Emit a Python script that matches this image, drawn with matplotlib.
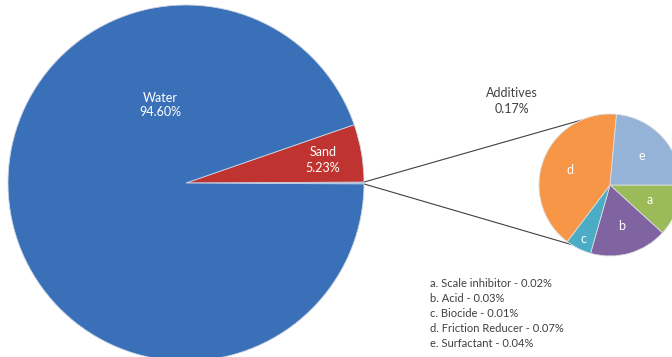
import numpy as np
import matplotlib.pyplot as plt

# main pie data (percent of fluid)
main_names = ['Additives', 'Sand', 'Water']
main_values = [0.17, 5.23, 94.60]

# breakdown of additives
add_letters = ['a', 'b', 'c', 'd', 'e']
add_names = ['Scale inhibitor', 'Acid', 'Biocide', 'Friction Reducer', 'Surfactant']
add_values = [0.02, 0.03, 0.01, 0.07, 0.04]

H = 357
fig = plt.figure(figsize=(6.72, 3.57), dpi=100)
ax = fig.add_axes([0, 0, 1, 1])
ax.set_xlim(0, 672)
ax.set_ylim(0, H)
ax.set_aspect('equal')
ax.axis('off')

font = 'Lato'

# big pie, additives slice centred on the horizontal
main_c = (186, H - 183)
main_r = 178
start = -main_values[0] / 100 * 360 / 2
ax.pie(main_values, colors=['#7ea6dc', '#bf3430', '#3a70b8'], startangle=start,
       center=main_c, radius=main_r, frame=True,
       wedgeprops=dict(edgecolor='#c9d3e3', linewidth=0.6))

ax.text(160, H - 105, 'Water\n94.60%', color='white', ha='center', va='center',
        fontsize=9, family=font, linespacing=1.3)
ax.text(323, H - 160, 'Sand\n5.23%', color='white', ha='center', va='center',
        fontsize=9, family=font, linespacing=1.3)

# small pie
small_c = (610, H - 185)
small_r = 71
wedges, texts = ax.pie(add_values, labels=add_letters, labeldistance=0.6,
                       colors=['#9bbb59', '#8064a2', '#4bacc6', '#f79646', '#95b3d7'],
                       startangle=0, counterclock=False, center=small_c, radius=small_r,
                       frame=True, wedgeprops=dict(edgecolor='#dddddd', linewidth=0.6),
                       textprops=dict(color='white', fontsize=9, family=font))
for t in texts:
    t.set_ha('center')
    t.set_va('center')
# the narrow c slice has its letter further out
w = wedges[2]
mid = np.deg2rad((w.theta1 + w.theta2) / 2)
texts[2].set_position((small_c[0] + 0.85 * small_r * np.cos(mid),
                       small_c[1] + 0.85 * small_r * np.sin(mid)))

ax.set_xlim(0, 672)
ax.set_ylim(0, H)
ax.axis('off')

# connector lines
p1 = (main_c[0] + main_r * np.cos(np.deg2rad(0.3)), main_c[1] + main_r * np.sin(np.deg2rad(0.3)))
p2 = (main_c[0] + main_r * np.cos(np.deg2rad(-0.3)), main_c[1] + main_r * np.sin(np.deg2rad(-0.3)))
q1 = (small_c[0] + small_r * np.cos(np.deg2rad(114)), small_c[1] + small_r * np.sin(np.deg2rad(114)))
q2 = (small_c[0] + small_r * np.cos(np.deg2rad(-123)), small_c[1] + small_r * np.sin(np.deg2rad(-123)))
ax.plot([p1[0], q1[0]], [p1[1], q1[1]], color='#404040', lw=0.8, zorder=0.5)
ax.plot([p2[0], q2[0]], [p2[1], q2[1]], color='#404040', lw=0.8, zorder=0.5)

ax.text(512, H - 101, 'Additives\n%.2f%%' % main_values[0], color='#404040', ha='center',
        va='center', fontsize=9, family=font, linespacing=1.35)

# legend text
lines = ['%s. %s - %.2f%%' % (l, n, v) for l, n, v in zip(add_letters, add_names, add_values)]
for i, s in enumerate(lines):
    ax.text(430, H - (287 + 15 * i), s, color='#404040', ha='left', va='baseline',
            fontsize=8, family=font)

fig.savefig('out.png', dpi=100)
